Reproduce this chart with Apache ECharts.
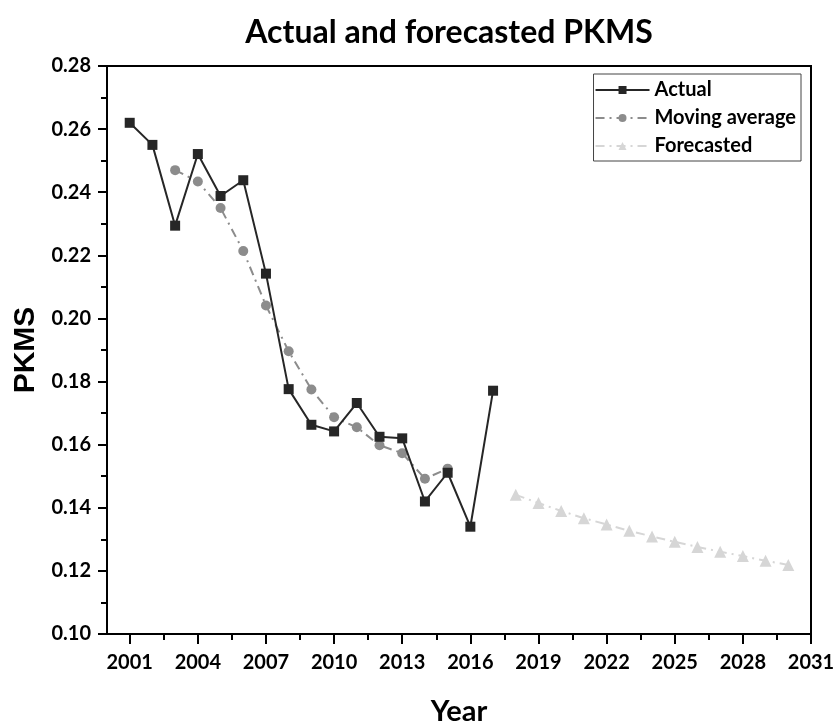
<!DOCTYPE html>
<html>
<head>
<meta charset="utf-8">
<script src="https://cdn.jsdelivr.net/npm/echarts@6/dist/echarts.min.js"></script>
<style>
  html, body { margin: 0; padding: 0; background: #fff; }
  #chart { width: 838px; height: 725px; }
</style>
</head>
<body>
<div id="chart"></div>
<script>
// Passenger-km market share: observed values, 3-year moving average and projection
const actualYears = [2001, 2002, 2003, 2004, 2005, 2006, 2007, 2008, 2009, 2010, 2011, 2012, 2013, 2014, 2015, 2016, 2017];
const actualValues = [0.2620, 0.2550, 0.2294, 0.2521, 0.2388, 0.2438, 0.2142, 0.1776, 0.1663, 0.1642, 0.1732, 0.1625, 0.1620, 0.1420, 0.1511, 0.1340, 0.1771];

const movingYears = [2003, 2004, 2005, 2006, 2007, 2008, 2009, 2010, 2011, 2012, 2013, 2014, 2015];
const movingValues = [0.2470, 0.2434, 0.2350, 0.2214, 0.2041, 0.1896, 0.1775, 0.1687, 0.1655, 0.1598, 0.1573, 0.1492, 0.1524];

const forecastYears = [2018, 2019, 2020, 2021, 2022, 2023, 2024, 2025, 2026, 2027, 2028, 2029, 2030];
const forecastValues = [0.1441, 0.1415, 0.1390, 0.1367, 0.1347, 0.1327, 0.1309, 0.1292, 0.1276, 0.1261, 0.1247, 0.1232, 0.1219];

const yearTicks = [2001, 2004, 2007, 2010, 2013, 2016, 2019, 2022, 2025, 2028, 2031];
const yearMinorTicks = [2002.5, 2005.5, 2008.5, 2011.5, 2014.5, 2017.5, 2020.5, 2023.5, 2026.5, 2029.5];

const pairs = (xs, ys) => xs.map((x, i) => [x, ys[i]]);

const FONT = 'Lato';
const chart = echarts.init(document.getElementById('chart'), null, { renderer: 'canvas' });

chart.setOption({
  backgroundColor: '#ffffff',
  animation: false,
  title: {
    text: 'Actual and forecasted PKMS',
    left: 444,
    top: 12,
    textAlign: 'center',
    textStyle: { fontFamily: FONT, fontWeight: 'bold', fontSize: 32, color: '#000' }
  },
  grid: {
    left: 107, right: 27, top: 66, bottom: 91,
    outerBoundsMode: 'none',
    containLabel: false,
    show: true, borderColor: '#000', borderWidth: 2, backgroundColor: 'transparent'
  },
  legend: {
    right: 37, top: 74,
    orient: 'vertical',
    itemWidth: 54, itemHeight: 10, itemGap: 8,
    padding: [6, 5, 5, 1],
    borderColor: '#444', borderWidth: 1,
    textStyle: { fontFamily: FONT, fontWeight: 'bold', fontSize: 20, color: '#000' },
    data: ['Actual', 'Moving average', 'Forecasted']
  },
  xAxis: [{
    type: 'value',
    min: 2000, max: 2031,
    name: 'Year',
    nameLocation: 'middle',
    nameGap: 63,
    nameTextStyle: { fontFamily: FONT, fontWeight: 'bold', fontSize: 29, color: '#000' },
    axisLine: { show: true, lineStyle: { color: '#000', width: 2 } },
    axisTick: { show: true, customValues: yearTicks, length: 10, lineStyle: { color: '#000', width: 2 } },
    axisLabel: {
      customValues: yearTicks, margin: 19,
      fontFamily: FONT, fontWeight: 'bold', fontSize: 20, color: '#000',
      formatter: v => String(v)
    },
    splitLine: { show: false }
  }, {
    type: 'value',
    min: 2000, max: 2031,
    position: 'bottom',
    axisLine: { show: false },
    axisTick: { show: true, customValues: yearMinorTicks, length: 6, lineStyle: { color: '#000', width: 2 } },
    axisLabel: { show: false },
    splitLine: { show: false }
  }],
  yAxis: {
    type: 'value',
    min: 0.10, max: 0.28, interval: 0.02,
    name: 'PKMS',
    nameLocation: 'middle',
    nameRotate: 90,
    nameGap: 61,
    nameTextStyle: { fontFamily: 'Liberation Sans', fontWeight: 'bold', fontSize: 30, color: '#000' },
    axisLine: { show: true, lineStyle: { color: '#000', width: 2 } },
    axisTick: { show: true, length: 9, lineStyle: { color: '#000', width: 2 } },
    minorTick: { show: true, splitNumber: 2, length: 6, lineStyle: { color: '#000', width: 2 } },
    axisLabel: {
      margin: 16,
      fontFamily: FONT, fontWeight: 'bold', fontSize: 20, color: '#000',
      formatter: v => v.toFixed(2)
    },
    splitLine: { show: false }
  },
  series: [{
    name: 'Actual',
    type: 'line',
    data: pairs(actualYears, actualValues),
    symbol: 'rect', symbolSize: 10,
    itemStyle: { color: '#262626' },
    lineStyle: { color: '#262626', width: 2 },
    z: 5
  }, {
    name: 'Moving average',
    type: 'line',
    data: pairs(movingYears, movingValues),
    symbol: 'circle', symbolSize: 10,
    itemStyle: { color: '#8c8c8c' },
    lineStyle: { color: '#8c8c8c', width: 2, type: [9, 5, 2, 5] },
    z: 4
  }, {
    name: 'Forecasted',
    type: 'line',
    data: pairs(forecastYears, forecastValues),
    symbol: 'triangle', symbolSize: 12,
    itemStyle: { color: '#d6d6d6' },
    lineStyle: { color: '#d6d6d6', width: 2, type: [9, 5, 2, 5] },
    z: 3
  }]
});
</script>
</body>
</html>
